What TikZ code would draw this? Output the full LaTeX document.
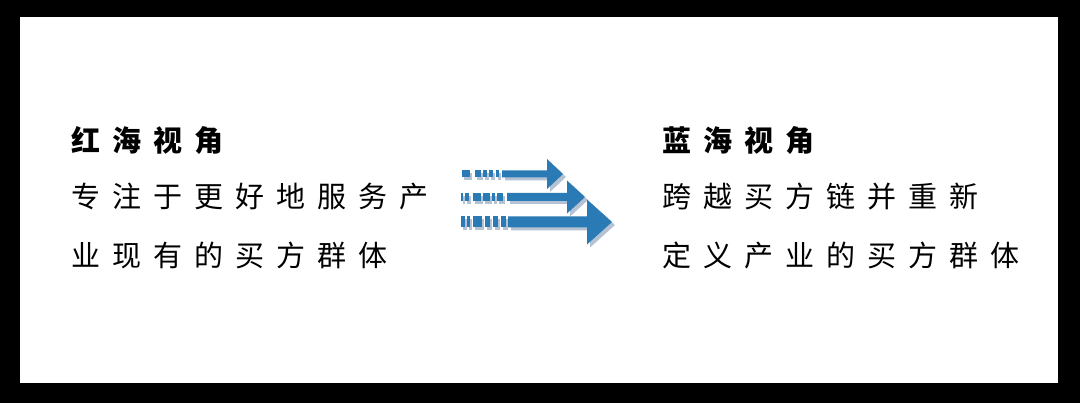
\documentclass[tikz,border=0pt]{standalone}
\usepackage{fontspec}
\newfontfamily\cjk{Noto Sans CJK SC}
\def\spacedtext#1{\spacedaux#1\relax}
\def\spacedaux#1{\ifx#1\relax\else #1\hskip 12pt\expandafter\spacedaux\fi}
\definecolor{arrowblue}{HTML}{2A7AB5}
\definecolor{arrowshadow}{HTML}{B4C2D4}
\tikzset{
  txt/.style={anchor=base west, inner sep=0pt, font=\cjk\fontsize{29}{29}\selectfont},
  head/.style={txt, font=\cjk\bfseries\fontsize{29}{29}\selectfont},
}
\begin{document}
\begin{tikzpicture}[x=1pt,y=-1pt]
\fill[black] (0,0) rectangle (1080,403);
\fill[white] (20,17) rectangle (1058,383);
\useasboundingbox (0,0) rectangle (1080,403);
% left text
\node[head] (lh) at (71,152) {\spacedtext{红海视角}};
\node[txt] (l1) at (71,208) {\spacedtext{专注于更好地服务产}};
\node[txt] (l2) at (71,267) {\spacedtext{业现有的买方群体}};
% right text
\node[head] (rh) at (662,152) {\spacedtext{蓝海视角}};
\node[txt] (r1) at (662,208) {\spacedtext{跨越买方链并重新}};
\node[txt] (r2) at (662,267) {\spacedtext{定义产业的买方群体}};
% arrows: #1 y center, #2 half shaft, #3 solid start, #4 head base, #5 tip, #6 half head
\newcommand\bigarrow[6]{%
  \foreach \dx/\col in {3/arrowshadow,0/arrowblue}{
    \begin{scope}[shift={(\dx,\dx)}]
    \fill[\col] (#3,#1-#2) -- (#4,#1-#2) -- (#4,#1-#6) -- (#5,#1) -- (#4,#1+#6) -- (#4,#1+#2) -- (#3,#1+#2) -- cycle;
    \end{scope}
  }%
}
\bigarrow{174}{3.5}{502}{547}{563}{15}
\bigarrow{197}{4}{507}{567}{585}{16.5}
\bigarrow{222}{5.5}{508}{587}{612}{22.5}
% dashed tails
\foreach \a/\b in {462/470,475/481,483/487,489/493,496/499}{
  \fill[arrowshadow] (\a+2,174-3.5+3) rectangle (\b+2,174+3.5+3);
  \fill[arrowblue] (\a,174-3.5) rectangle (\b,174+3.5);}
\foreach \a/\b in {461/463,465/469,473/481,483/490,492/495,497/503}{
  \fill[arrowshadow] (\a+2,197-4+3) rectangle (\b+2,197+4+3);
  \fill[arrowblue] (\a,197-4) rectangle (\b,197+4);}
\foreach \a/\b in {461/465,467/470,473/482,485/490,493/498,501/506}{
  \fill[arrowshadow] (\a+2,222-5.5+3) rectangle (\b+2,222+5.5+3);
  \fill[arrowblue] (\a,222-5.5) rectangle (\b,222+5.5);}
\end{tikzpicture}
\end{document}
